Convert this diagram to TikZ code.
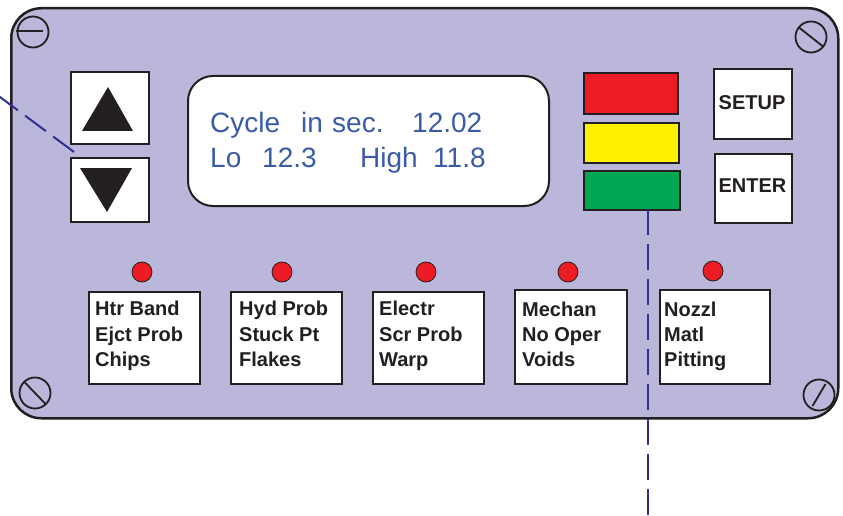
\documentclass[tikz,border=0pt]{standalone}
\usepackage{fontspec}
\usetikzlibrary{calc}
\setmainfont{Liberation Sans}
\definecolor{panelfill}{RGB}{186,183,218}
\definecolor{ink}{RGB}{35,31,32}
\definecolor{lcdblue}{RGB}{58,92,168}
\definecolor{leadblue}{RGB}{46,49,146}
\definecolor{ledred}{RGB}{237,28,36}
\definecolor{ledyellow}{RGB}{255,242,0}
\definecolor{ledgreen}{RGB}{0,166,81}
\begin{document}
\begin{tikzpicture}[x=1pt,y=-1pt,
  boxat/.style={draw=ink, line width=2pt, fill=white, inner sep=0, anchor=north west},
  screw/.style={circle, draw=ink, line width=1.8pt, minimum size=31pt, inner sep=0},
  screwline/.style={draw=ink, line width=1.8pt},
  led/.style={circle, draw=ink, line width=0.8pt, fill=ledred, minimum size=20pt, inner sep=0},
  lcdtxt/.style={text=lcdblue, font=\fontsize{28}{34}\selectfont, anchor=base west, inner sep=0},
  keytxt/.style={text=ink, font=\bfseries\fontsize{20}{24}\selectfont, anchor=base west, inner sep=0},
  captxt/.style={text=ink, font=\bfseries\fontsize{20}{24}\selectfont, anchor=base, inner sep=0},
  leader/.style={draw=leadblue, line width=2pt, dash pattern=on 26pt off 9pt}]
\useasboundingbox (0,0) rectangle (843,516);

% panel
\node[draw=ink, line width=2.5pt, fill=panelfill, rounded corners=30pt,
      minimum width=827pt, minimum height=410pt, anchor=north west, inner sep=0] (panel) at (10,7) {};

% screws
\node[screw] (s1) at (33,32) {};
\draw[screwline] (16,31) -- (43,31);
\node[screw] (s2) at (811,37) {};
\draw[screwline] ($(s2)+(-12,-9.5)$) -- ($(s2)+(12,9.5)$);
\node[screw] (s3) at (35,393) {};
\draw[screwline] ($(s3)+(-11,-11.5)$) -- ($(s3)+(11,11.5)$);
\node[screw] (s4) at (819,395) {};
\draw[screwline] ($(s4)+(-6.5,11)$) -- ($(s4)+(6.5,-11)$);

% arrow buttons
\node[boxat, minimum width=78pt, minimum height=72pt] (up) at (70,71) {};
\fill[ink] (108,87) -- (82,131) -- (133,131) -- cycle;
\node[boxat, minimum width=78pt, minimum height=64pt] (down) at (70,157) {};
\fill[ink] (80,168) -- (132,168) -- (107,212) -- cycle;

% display
\node[draw=ink, line width=2pt, fill=white, rounded corners=25pt,
      minimum width=361pt, minimum height=130pt, anchor=north west, inner sep=0] (lcd) at (187,75) {};
\node[lcdtxt] (t1) at (210,132) {Cycle};
\node[lcdtxt] (t2) at (301,132) {in};
\node[lcdtxt] (t3) at (332,132) {sec.};
\node[lcdtxt] (t4) at (412,132) {12.02};
\node[lcdtxt] (t5) at (210,167) {Lo};
\node[lcdtxt] (t6) at (262,167) {12.3};
\node[lcdtxt] (t7) at (360,167) {High};
\node[lcdtxt] (t8) at (433,167) {11.8};

% status lights
\node[boxat, fill=ledred, minimum width=94pt, minimum height=41pt] (red) at (583,72) {};
\node[boxat, fill=ledyellow, minimum width=95pt, minimum height=40pt] (yellow) at (583,122) {};
\node[boxat, fill=ledgreen, minimum width=96pt, minimum height=39pt] (green) at (583,170) {};

% setup / enter
\node[boxat, minimum width=78pt, minimum height=70pt] (setup) at (713,68) {};
\node[captxt] (setupt) at (752,110) {SETUP};
\node[boxat, minimum width=77pt, minimum height=69pt] (enter) at (714,153) {};
\node[captxt] (entert) at (752.5,192) {ENTER};

% LEDs
\node[led] (l1) at (142,272) {};
\node[led] (l2) at (282,272) {};
\node[led] (l3) at (426,272) {};
\node[led] (l4) at (568,272) {};
\node[led] (l5) at (713,271) {};

% fault boxes
\node[boxat, minimum width=111pt, minimum height=92pt] (b1) at (88,291) {};
\node[boxat, minimum width=111pt, minimum height=92pt] (b2) at (230,291) {};
\node[boxat, minimum width=111pt, minimum height=92pt] (b3) at (372,291) {};
\node[boxat, minimum width=112pt, minimum height=94pt] (b4) at (514,289) {};
\node[boxat, minimum width=110pt, minimum height=94pt] (b5) at (659,289) {};

\node[keytxt] (b1a) at (95,315) {Htr Band};
\node[keytxt] (b1b) at (95,341) {Ejct Prob};
\node[keytxt] (b1c) at (95,366) {Chips};
\node[keytxt] (b2a) at (239,315) {Hyd Prob};
\node[keytxt] (b2b) at (239,341) {Stuck Pt};
\node[keytxt] (b2c) at (239,366) {Flakes};
\node[keytxt] (b3a) at (379,315) {Electr};
\node[keytxt] (b3b) at (379,341) {Scr Prob};
\node[keytxt] (b3c) at (379,366) {Warp};
\node[keytxt] (b4a) at (522,316) {Mechan};
\node[keytxt] (b4b) at (522,341) {No Oper};
\node[keytxt] (b4c) at (522,366) {Voids};
\node[keytxt] (b5a) at (664,316) {Nozzl};
\node[keytxt] (b5b) at (664,341) {Matl};
\node[keytxt] (b5c) at (664,366) {Pitting};

% leader lines
\coordinate (leadA) at (74,152);
\coordinate (leadAout) at (-5,93.3);
\draw[leader] (leadA) -- (leadAout);
\coordinate (leadB) at (648,209);
\coordinate (leadBout) at (648,520);
\draw[leader] (leadB) -- (leadBout);
\end{tikzpicture}
\end{document}
